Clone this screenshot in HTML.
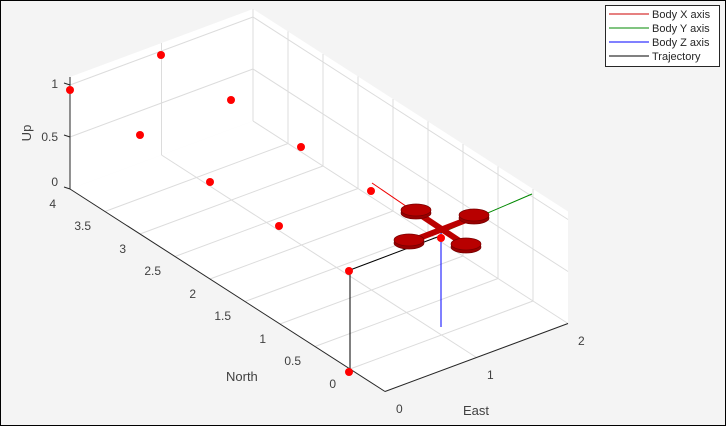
<!DOCTYPE html>
<html><head><style>
body{margin:0;background:#fff}
svg{display:block;font-family:"Liberation Sans",sans-serif}
</style></head><body>
<svg width="726" height="426" viewBox="0 0 726 426" xmlns="http://www.w3.org/2000/svg">
<rect x="0.5" y="0.5" width="725" height="425" fill="#f4f4f4" stroke="#000"/>
<polygon points="70,189 253,121 253,9 70,77" fill="#fff"/>
<polygon points="253,121 568,323.5 568,211.5 253,9" fill="#fff"/>
<polygon points="70,189 253,121 568,323.5 385,391.5" fill="#fff"/>
<g stroke="#dcdcdc" stroke-width="1" fill="none">
<line x1="161.5" y1="155" x2="161.5" y2="43"/>
<line x1="70" y1="137" x2="253" y2="69"/>
<line x1="70" y1="85" x2="253" y2="17"/>
<line x1="253" y1="121" x2="253" y2="9"/>
<line x1="253" y1="69" x2="568" y2="271.5"/>
<line x1="253" y1="17" x2="568" y2="219.5"/>
<line x1="288" y1="143.5" x2="288" y2="31.5"/>
<line x1="323" y1="166" x2="323" y2="54"/>
<line x1="358" y1="188.5" x2="358" y2="76.5"/>
<line x1="393" y1="211" x2="393" y2="99"/>
<line x1="428" y1="233.5" x2="428" y2="121.5"/>
<line x1="463" y1="256" x2="463" y2="144"/>
<line x1="498" y1="278.5" x2="498" y2="166.5"/>
<line x1="533" y1="301" x2="533" y2="189"/>
<line x1="161.5" y1="155" x2="476.5" y2="357.5"/>
<line x1="253" y1="121" x2="568" y2="323.5"/>
<line x1="105" y1="211.5" x2="288" y2="143.5"/>
<line x1="140" y1="234" x2="323" y2="166"/>
<line x1="175" y1="256.5" x2="358" y2="188.5"/>
<line x1="210" y1="279" x2="393" y2="211"/>
<line x1="245" y1="301.5" x2="428" y2="233.5"/>
<line x1="280" y1="324" x2="463" y2="256"/>
<line x1="315" y1="346.5" x2="498" y2="278.5"/>
<line x1="350" y1="369" x2="533" y2="301"/>
</g>
<g stroke="#262626" stroke-width="1">
<line x1="70" y1="189" x2="70" y2="77"/>
<line x1="70" y1="189" x2="385" y2="391.5"/>
<line x1="385" y1="391.5" x2="568" y2="323.5"/>
<line x1="70" y1="189" x2="64" y2="187"/><line x1="70" y1="137" x2="64" y2="135"/><line x1="70" y1="85" x2="64" y2="83"/>
</g>
<g font-size="12" fill="#404040" text-anchor="end">
<text x="58" y="186">0</text><text x="58" y="141">0.5</text><text x="58" y="88">1</text>
<text x="56" y="208">4</text><text x="91" y="230">3.5</text><text x="126" y="253">3</text><text x="161" y="275">2.5</text><text x="196" y="298">2</text><text x="231" y="320">1.5</text><text x="266" y="343">1</text><text x="301" y="365">0.5</text><text x="336" y="388">0</text>
</g>
<g font-size="12" fill="#404040">
<text x="396" y="413">0</text><text x="487" y="379">1</text><text x="578" y="345">2</text>
<text x="226" y="381" font-size="13">North</text>
<text x="463" y="415" font-size="13">East</text>
<text transform="translate(31,133) rotate(-90)" text-anchor="middle" font-size="13">Up</text>
</g>
<!-- trajectory -->
<polyline points="350,372 350,270 440,236" fill="none" stroke="#000" stroke-width="1"/>
<line x1="372" y1="183" x2="438" y2="228" stroke="#e00" stroke-width="1"/>
<line x1="441" y1="233" x2="532" y2="194" stroke="#080" stroke-width="1"/>
<line x1="441" y1="233" x2="441" y2="327" stroke="#00f" stroke-width="1"/>
<!-- drone -->
<g fill="#b80000" stroke="#700" stroke-width="0.7">
<line x1="416" y1="212" x2="467" y2="246" stroke="#b00" stroke-width="6"/>
<line x1="409" y1="242" x2="474" y2="217" stroke="#b00" stroke-width="6"/>
<ellipse cx="416" cy="213" rx="15" ry="6" fill="#900"/><ellipse cx="416" cy="210" rx="15" ry="6"/>
<ellipse cx="474" cy="218" rx="15" ry="6" fill="#900"/><ellipse cx="474" cy="215" rx="15" ry="6"/>
<ellipse cx="409" cy="243" rx="15" ry="6" fill="#900"/><ellipse cx="409" cy="240" rx="15" ry="6"/>
<ellipse cx="466" cy="247" rx="15" ry="6" fill="#900"/><ellipse cx="466" cy="244" rx="15" ry="6"/>
</g>
<g fill="#f00">
<circle cx="70" cy="90" r="4"/><circle cx="161" cy="55" r="4"/><circle cx="140" cy="135" r="4"/>
<circle cx="231" cy="100" r="4"/><circle cx="210" cy="182" r="4"/><circle cx="301" cy="147" r="4"/>
<circle cx="279" cy="226" r="4"/><circle cx="371" cy="191" r="4"/><circle cx="349" cy="271" r="4"/>
<circle cx="349" cy="372" r="4"/><circle cx="441" cy="238" r="4"/>
</g>
<!-- legend -->
<rect x="605.5" y="5.5" width="114" height="61" fill="#fff" stroke="#262626"/>
<g stroke-width="1">
<line x1="609" y1="14" x2="649" y2="14" stroke="#c00"/>
<line x1="609" y1="28" x2="649" y2="28" stroke="#080"/>
<line x1="609" y1="42" x2="649" y2="42" stroke="#00f"/>
<line x1="609" y1="56" x2="649" y2="56" stroke="#000"/>
</g>
<g font-size="11" fill="#262626">
<text x="652" y="18">Body X axis</text><text x="652" y="32">Body Y axis</text>
<text x="652" y="46">Body Z axis</text><text x="652" y="60">Trajectory</text>
</g>
</svg>
</body></html>
